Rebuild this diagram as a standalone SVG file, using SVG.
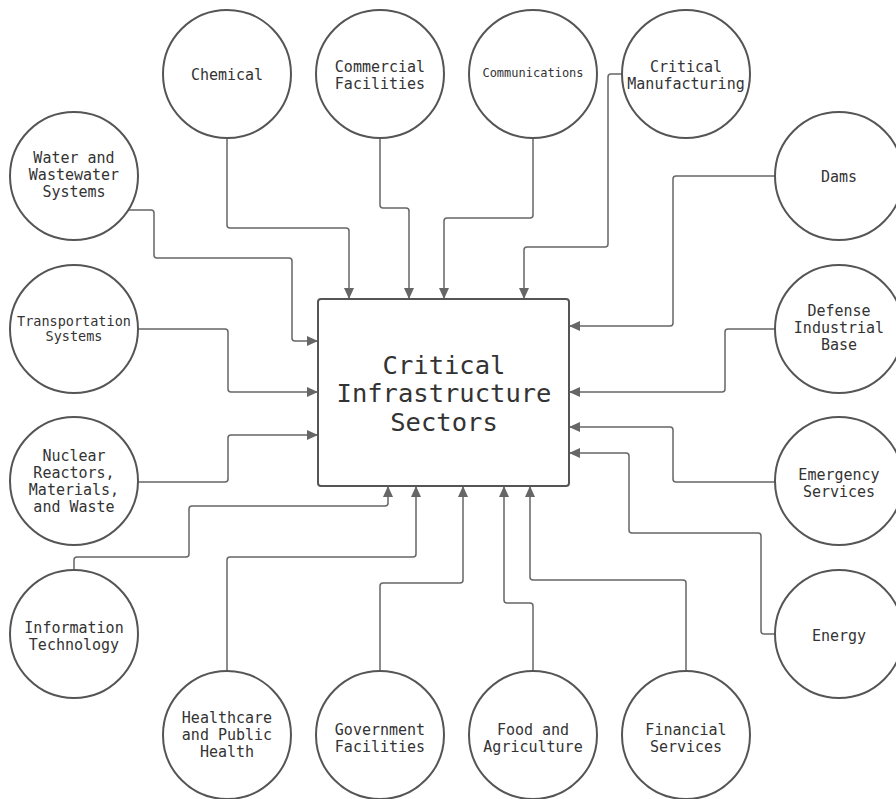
<svg xmlns="http://www.w3.org/2000/svg" width="896" height="799" viewBox="0 0 896 799">
  <style>
    .node circle { fill: #ffffff; stroke: #555555; stroke-width: 2; }
    .hub rect { fill: #ffffff; stroke: #555555; stroke-width: 2; }
    .lbl { font-family: "DejaVu Sans Mono", "Liberation Mono", monospace; font-size: 15px; fill: #333333; text-anchor: middle; }
    .title { font-family: "DejaVu Sans Mono", "Liberation Mono", monospace; font-size: 25.5px; fill: #333333; text-anchor: middle; }
    .links path { fill: none; stroke: #666666; stroke-width: 1.5; marker-end: url(#arrow); }
  </style>
  <defs>
    <marker id="arrow" markerUnits="userSpaceOnUse" markerWidth="12" markerHeight="10" refX="11" refY="5" orient="auto">
      <path d="M0 0 L11 5 L0 10 Z" fill="#666666"/>
    </marker>
  </defs>
  <rect width="896" height="799" fill="#ffffff"/>

  <g class="links">
    <path d="M227 138 V225 Q227 228 230 228 H346 Q349 228 349 231 V299"/>
    <path d="M380 138 V205 Q380 208 383 208 H406 Q409 208 409 211 V299"/>
    <path d="M533 138 V215 Q533 218 530 218 H447 Q444 218 444 221 V299"/>
    <path d="M622 74 H611 Q608 74 608 77 V244 Q608 247 605 247 H527 Q524 247 524 250 V299"/>
    <path d="M775 176 H676 Q673 176 673 179 V323 Q673 326 670 326 H569"/>
    <path d="M775 329 H728 Q725 329 725 332 V389 Q725 392 722 392 H569"/>
    <path d="M775 482 H676 Q673 482 673 479 V430 Q673 427 670 427 H569"/>
    <path d="M775 634 H764 Q761 634 761 631 V536 Q761 533 758 533 H632 Q629 533 629 530 V456 Q629 453 626 453 H569"/>
    <path d="M686 671 V583 Q686 580 683 580 H533 Q530 580 530 577 V486"/>
    <path d="M533 671 V606 Q533 603 530 603 H507 Q504 603 504 600 V486"/>
    <path d="M380 671 V586 Q380 583 383 583 H460 Q463 583 463 580 V486"/>
    <path d="M227 671 V560 Q227 557 230 557 H413 Q416 557 416 554 V486"/>
    <path d="M74 570 V560 Q74 557 77 557 H186 Q189 557 189 554 V509 Q189 506 192 506 H385 Q388 506 388 503 V486"/>
    <path d="M138 482 H225 Q228 482 228 479 V438 Q228 435 231 435 H318"/>
    <path d="M138 329 H225 Q228 329 228 332 V389 Q228 392 231 392 H318"/>
    <path d="M129 210 H151 Q154 210 154 213 V255 Q154 258 157 258 H289 Q292 258 292 261 V338 Q292 341 295 341 H318"/>
  </g>

  <g id="hub" class="hub">
    <rect x="318" y="299" width="251" height="187" rx="3"/>
    <text class="title" x="444"><tspan x="444" y="374">Critical</tspan><tspan x="444" y="402">Infrastructure</tspan><tspan x="444" y="431">Sectors</tspan></text>
  </g>

  <g id="chemical" class="node">
    <circle cx="227" cy="74" r="64"/>
    <text class="lbl" x="227" y="80">Chemical</text>
  </g>
  <g id="commercial-facilities" class="node">
    <circle cx="380" cy="74" r="64"/>
    <text class="lbl"><tspan x="380" y="72">Commercial</tspan><tspan x="380" y="89">Facilities</tspan></text>
  </g>
  <g id="communications" class="node">
    <circle cx="533" cy="74" r="64"/>
    <text class="lbl" x="533" y="77" style="font-size:12px">Communications</text>
  </g>
  <g id="critical-manufacturing" class="node">
    <circle cx="686" cy="74" r="64"/>
    <text class="lbl"><tspan x="686" y="72">Critical</tspan><tspan x="686" y="89">Manufacturing</tspan></text>
  </g>
  <g id="water" class="node">
    <circle cx="74" cy="176" r="64"/>
    <text class="lbl"><tspan x="74" y="163">Water and</tspan><tspan x="74" y="180">Wastewater</tspan><tspan x="74" y="197">Systems</tspan></text>
  </g>
  <g id="transportation" class="node">
    <circle cx="74" cy="329" r="64"/>
    <text class="lbl" style="font-size:13.5px"><tspan x="74" y="326">Transportation</tspan><tspan x="74" y="341">Systems</tspan></text>
  </g>
  <g id="nuclear" class="node">
    <circle cx="74" cy="481" r="64"/>
    <text class="lbl"><tspan x="74" y="461">Nuclear</tspan><tspan x="74" y="478">Reactors,</tspan><tspan x="74" y="495">Materials,</tspan><tspan x="74" y="512">and Waste</tspan></text>
  </g>
  <g id="information-technology" class="node">
    <circle cx="74" cy="634" r="64"/>
    <text class="lbl"><tspan x="74" y="633">Information</tspan><tspan x="74" y="650">Technology</tspan></text>
  </g>
  <g id="healthcare" class="node">
    <circle cx="227" cy="735" r="64"/>
    <text class="lbl"><tspan x="227" y="723">Healthcare</tspan><tspan x="227" y="740">and Public</tspan><tspan x="227" y="757">Health</tspan></text>
  </g>
  <g id="government-facilities" class="node">
    <circle cx="380" cy="735" r="64"/>
    <text class="lbl"><tspan x="380" y="735">Government</tspan><tspan x="380" y="752">Facilities</tspan></text>
  </g>
  <g id="food-agriculture" class="node">
    <circle cx="533" cy="735" r="64"/>
    <text class="lbl"><tspan x="533" y="735">Food and</tspan><tspan x="533" y="752">Agriculture</tspan></text>
  </g>
  <g id="financial-services" class="node">
    <circle cx="686" cy="735" r="64"/>
    <text class="lbl"><tspan x="686" y="735">Financial</tspan><tspan x="686" y="752">Services</tspan></text>
  </g>
  <g id="dams" class="node">
    <circle cx="839" cy="176" r="64"/>
    <text class="lbl" x="839" y="182">Dams</text>
  </g>
  <g id="defense-industrial-base" class="node">
    <circle cx="839" cy="329" r="64"/>
    <text class="lbl"><tspan x="839" y="316">Defense</tspan><tspan x="839" y="333">Industrial</tspan><tspan x="839" y="350">Base</tspan></text>
  </g>
  <g id="emergency-services" class="node">
    <circle cx="839" cy="481" r="64"/>
    <text class="lbl"><tspan x="839" y="480">Emergency</tspan><tspan x="839" y="497">Services</tspan></text>
  </g>
  <g id="energy" class="node">
    <circle cx="839" cy="634" r="64"/>
    <text class="lbl" x="839" y="641">Energy</text>
  </g>
</svg>
